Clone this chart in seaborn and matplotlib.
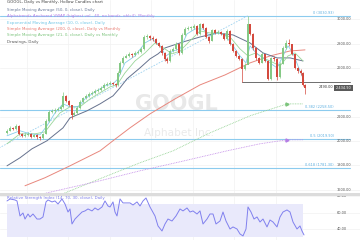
import numpy as np
import pandas as pd
import matplotlib
matplotlib.use("Agg")
import matplotlib.pyplot as plt
import seaborn as sns

# ---------------- data ----------------
candle_x = [7, 10, 13, 16, 19, 22, 25, 28, 31, 34, 37, 40, 43, 46, 49, 52, 55, 58, 61, 63,
            66, 69, 72, 74, 77, 80, 83, 86, 89, 92, 95, 98, 101, 104, 107, 110, 113, 116, 118, 120,
            123, 126, 129, 132, 135, 138, 141, 144, 147, 150, 153, 156, 159, 162, 165, 167, 170, 173, 176, 179,
            182, 185, 188, 191, 194, 197, 200, 203, 206, 209, 212, 215, 218, 221, 224, 227, 230, 233, 236, 239,
            242, 245, 248, 250, 253, 256, 259, 262, 265, 268, 271, 274, 277, 280, 283, 286, 289, 292, 295, 298,
            301, 303, 305]
candle_close = [2085, 2109, 2101, 2126, 2060, 2044, 2052, 2060, 2035, 2052, 2035, 2027, 2060, 2167, 2241, 2249, 2257, 2265, 2282, 2372,
                2331, 2298, 2216, 2232, 2274, 2323, 2356, 2372, 2389, 2397, 2413, 2421, 2438, 2462, 2471, 2479, 2471, 2462, 2561, 2643,
                2684, 2700, 2717, 2709, 2725, 2733, 2758, 2856, 2865, 2848, 2840, 2807, 2783, 2725, 2676, 2659, 2742, 2758, 2799, 2725,
                2873, 2922, 2930, 2930, 2947, 2881, 2963, 2930, 2856, 2824, 2914, 2889, 2897, 2881, 2840, 2906, 2799, 2742, 2700, 2676,
                2594, 2627, 2960, 2881, 2766, 2684, 2643, 2717, 2659, 2512, 2684, 2676, 2528, 2635, 2766, 2807, 2799, 2717, 2602, 2577,
                2561, 2462, 2434.9]
candle_high = [2100, 2125, 2118, 2140, 2130, 2070, 2066, 2075, 2068, 2062, 2058, 2045, 2070, 2180, 2255, 2262, 2270, 2280, 2295, 2400,
               2380, 2340, 2300, 2245, 2285, 2335, 2365, 2385, 2400, 2410, 2425, 2435, 2450, 2475, 2485, 2495, 2490, 2480, 2575, 2660,
               2700, 2715, 2730, 2728, 2740, 2748, 2770, 2870, 2880, 2875, 2860, 2845, 2815, 2790, 2735, 2690, 2755, 2770, 2812, 2805,
               2885, 2935, 2945, 2948, 2960, 2955, 2975, 2970, 2935, 2865, 2925, 2920, 2910, 2905, 2890, 2918, 2910, 2805, 2750, 2710,
               2680, 2640, 3030.93, 2965, 2885, 2770, 2690, 2730, 2720, 2665, 2695, 2700, 2680, 2650, 2778, 2835, 2840, 2800, 2720, 2610,
               2590, 2565, 2470]
candle_low = [2060, 2080, 2090, 2095, 2050, 2030, 2035, 2040, 2025, 2030, 2020, 2010, 2020, 2055, 2160, 2230, 2235, 2245, 2255, 2275,
              2320, 2285, 2180, 2205, 2225, 2265, 2315, 2345, 2360, 2380, 2390, 2405, 2415, 2430, 2455, 2465, 2460, 2445, 2455, 2555,
              2635, 2680, 2695, 2695, 2700, 2715, 2725, 2750, 2840, 2830, 2825, 2795, 2770, 2710, 2660, 2640, 2650, 2735, 2750, 2710,
              2720, 2865, 2910, 2915, 2925, 2870, 2875, 2920, 2845, 2810, 2820, 2880, 2880, 2870, 2830, 2835, 2790, 2730, 2690, 2665,
              2490, 2585, 2630, 2870, 2750, 2670, 2630, 2640, 2650, 2500, 2505, 2660, 2505, 2520, 2630, 2760, 2785, 2705, 2590, 2560,
              2540, 2450, 2390]
first_open = 2070

sma50_x = [7, 20, 32, 47, 63, 70, 87, 100, 113, 120, 127, 140, 150, 158, 165, 183, 200, 217, 233, 250, 263, 277, 290, 303]
sma50_v = [1797, 1863, 1937, 2003, 2109, 2191, 2249, 2306, 2372, 2438, 2512, 2602, 2676, 2717, 2766, 2815, 2856, 2889, 2873, 2807, 2725, 2684, 2684, 2659]

sma200_x = [25, 45, 70, 100, 113, 130, 150, 175, 200, 225, 250, 270, 290, 305]
sma200_v = [1633, 1699, 1797, 1920, 2003, 2109, 2224, 2347, 2462, 2544, 2643, 2700, 2741, 2750]

sma21m_x = [58, 100, 140, 173, 210, 250, 287, 303]
sma21m_v = [1551, 1691, 1822, 1920, 2068, 2208, 2306, 2306]

vwap_x = [43, 100, 140, 180, 227, 260, 287, 303]
vwap_v = [1567, 1674, 1756, 1830, 1920, 1978, 2011, 2011]

sma21_x = [7, 20, 35, 45, 52, 60, 70, 80, 90, 100, 110, 117, 125, 135, 145, 155, 165, 172, 180, 190,
           200, 210, 220, 230, 240, 248, 256, 263, 270, 280, 288, 295, 303]
sma21_v = [1978, 2060, 2060, 2076, 2150, 2232, 2282, 2282, 2347, 2397, 2446, 2462, 2561, 2659, 2725, 2807, 2758, 2717, 2741, 2824,
           2906, 2889, 2889, 2856, 2758, 2700, 2725, 2684, 2659, 2618, 2700, 2725, 2659]

ema10_x = [7, 20, 30, 40, 47, 55, 63, 70, 78, 85, 95, 105, 113, 118, 125, 135, 145, 152, 160, 166,
           173, 180, 187, 195, 203, 210, 217, 225, 233, 240, 246, 250, 256, 263, 270, 277, 283, 288, 293, 298, 304]
ema10_v = [2044, 2085, 2060, 2052, 2126, 2232, 2306, 2282, 2282, 2347, 2405, 2454, 2471, 2512, 2643, 2700, 2807, 2840, 2783, 2700,
           2741, 2758, 2881, 2922, 2922, 2865, 2889, 2873, 2783, 2700, 2643, 2783, 2725, 2684, 2643, 2602, 2700, 2783, 2725, 2618, 2495]

trend_x = [-215, 248]
trend_v = [1008.87, 3030.93]

fib_levels = ["0", "0.382", "0.5", "0.618"]
fib_prices = [3030.93, 2258.50, 2019.90, 1781.30]

support_price = 2490.00
last_price = 2434.90
price_ticks = [3000, 2800, 2600, 2200, 2000, 1800, 1600]

rsi_x = [7, 10, 15, 17, 20, 23, 25, 28, 30, 33, 37, 40, 43, 46, 48, 52, 55, 58, 62, 65,
         68, 70, 72, 75, 78, 82, 85, 88, 92, 95, 98, 102, 105, 108, 110, 113, 115, 117, 120, 123,
         127, 130, 133, 137, 140, 143, 146, 150, 155, 158, 162, 165, 168, 172, 176, 180, 183, 187, 190, 193,
         197, 200, 203, 207, 210, 213, 216, 220, 223, 226, 230, 233, 237, 240, 243, 246, 248, 251, 254, 257,
         260, 263, 267, 270, 273, 277, 280, 283, 287, 290, 293, 297, 300, 302, 304]
rsi_v = [74.0, 76.4, 75.2, 74.0, 55.8, 59.4, 52.1, 58.2, 54.6, 58.2, 52.1, 52.1, 54.6, 72.8, 75.2, 72.8, 74.0, 70.3, 76.4, 70.3,
         60.6, 64.3, 46.1, 52.1, 55.8, 60.6, 61.9, 64.3, 61.9, 65.5, 63.1, 66.7, 74.0, 67.9, 66.7, 72.8, 60.6, 55.8, 76.4, 71.6,
         71.6, 71.6, 69.1, 72.8, 67.9, 74.0, 77.6, 66.7, 55.8, 43.7, 37.6, 46.1, 52.1, 49.7, 55.8, 64.3, 61.9, 65.5, 60.6, 61.9,
         58.2, 61.9, 46.1, 52.1, 58.2, 58.2, 46.1, 49.7, 60.6, 49.7, 40.0, 42.5, 40.0, 34.0, 31.6, 40.0, 66.7, 60.6, 52.1, 54.6,
         48.5, 52.1, 42.5, 50.9, 48.5, 42.5, 54.6, 60.6, 63.1, 60.6, 48.5, 40.0, 43.7, 37.6, 32.8]
rsi_ticks = [80, 60, 40]

legend_rows = [
    ("GOOGL, Daily vs Monthly, Hollow Candles chart", "#444444"),
    ("Simple Moving Average (50, 0, close), Daily", "#6b7a99"),
    ("Alphatrends Anchored VWAP (highest vol., 40, no bands, ohlc4), Monthly", "#b57ee5"),
    ("Exponential Moving Average (10, 0, close), Daily", "#6ec6e6"),
    ("Simple Moving Average (200, 0, close), Daily vs Monthly", "#e87a70"),
    ("Simple Moving Average (21, 0, close), Daily vs Monthly", "#7cc47c"),
    ("Drawings, Daily", "#555555"),
]

# ---------------- figure ----------------
sns.set_style("white")
plt.rcParams["font.family"] = ["DejaVu Sans"]
W, H = 360, 240
fig = plt.figure(figsize=(3.6, 2.4), dpi=100)
fig.patch.set_facecolor("white")

def fy(py):
    return 1 - py / H

def ppx(py):
    return 3160 - 8.22 * py

ax = fig.add_axes([0, fy(193), 1, 193 / H])
ax.set_xlim(0, W)
ax.set_ylim(ppx(193), ppx(0))
ax.axis("off")

rax = fig.add_axes([0, 0, 1, 46 / H])
rax.set_xlim(0, W)
rax.set_ylim(80 - 44 * 1.212, 80 + 2 * 1.212)
rax.axis("off")

grid_c = "#f1f1f1"
for p in price_ticks:
    ax.axhline(p, color=grid_c, lw=0.5, zorder=0)
for gx in [27, 68, 110, 151, 193, 234, 276]:
    ax.axvline(gx, color=grid_c, lw=0.5, zorder=0)
    rax.axvline(gx, color=grid_c, lw=0.5, zorder=0)
for r in rsi_ticks:
    rax.axhline(r, color=grid_c, lw=0.5, zorder=0)

# watermark
ax.text(176, ppx(104), "GOOGL", fontsize=15, fontweight="bold", color="#e8e8e8",
        ha="center", va="center", zorder=0)
ax.text(179, ppx(133), "Alphabet Inc.", fontsize=7.6, color="#eaeaea",
        ha="center", va="center", zorder=0)

# fib retracement lines + trend line
for lvl, pr in zip(fib_levels, fib_prices):
    ax.plot([0, 350], [pr, pr], color="#8ccbee", lw=0.8, zorder=1)
    ax.text(334, pr + 8.22 * 0.8, f"{lvl} ({pr:.2f})", fontsize=2.5, color="#5aaee0",
            ha="right", va="bottom", zorder=6)
trend_df = pd.DataFrame({"x": trend_x, "v": trend_v})
sns.lineplot(data=trend_df, x="x", y="v", ax=ax, color="#9fd3f0", lw=0.6,
             linestyle=(0, (2, 1.5)), zorder=1)

# support line
ax.plot([242, 350], [support_price, support_price], color="#6e6e6e", lw=0.7, zorder=4)

# moving averages
def line(xs, vs, color, lw=0.6, ls="-", z=2, target=ax):
    df = pd.DataFrame({"x": xs, "v": vs})
    sns.lineplot(data=df, x="x", y="v", ax=target, color=color, lw=lw, linestyle=ls, zorder=z)

line(sma200_x, sma200_v, "#e8877d", lw=0.7)
line(sma21m_x, sma21m_v, "#8fd08f", lw=0.6, ls=(0, (1, 1)))
line(vwap_x, vwap_v, "#c28ae8", lw=0.6, ls=(0, (1, 1)))
line(sma50_x, sma50_v, "#66728e", lw=0.7)
line(sma21_x, sma21_v, "#9ad69a", lw=0.6, z=3)
line(ema10_x, ema10_v, "#86cdea", lw=0.6, z=3)
ax.plot([sma21m_x[-2]], [sma21m_v[-2]], marker=">", ms=2.2, color="#7cc47c", zorder=4)
ax.plot([vwap_x[-2]], [vwap_v[-2]], marker=">", ms=2.2, color="#b57ee5", zorder=4)

# candles
opens = [first_open] + candle_close[:-1]
up_c, dn_c = "#85c985", "#d44a3e"
for x, o, c, h, l in zip(candle_x, opens, candle_close, candle_high, candle_low):
    col = up_c if c >= o else dn_c
    ax.vlines(x, l, h, color=col, lw=0.5, zorder=5)
    ax.bar(x, max(abs(c - o), 4), bottom=min(o, c), width=1.7, color=col, lw=0, zorder=5)

# price axis labels
for p in price_ticks:
    ax.text(337, p, f"{p:.2f}", fontsize=2.5, color="#555555", ha="left", va="center", zorder=6)
ax.text(333, ppx(87), f"{support_price:.2f}", fontsize=2.5, color="#333333",
        ha="right", va="center", zorder=6)
ax.text(343.5, last_price, f"{last_price:,.2f}", fontsize=2.5, color="white", ha="center", va="center",
        zorder=7, bbox=dict(boxstyle="square,pad=0.35", fc="#5a5a5a", ec="none"))

# legend rows
row_y = [2.2, 10, 15.7, 22.7, 29, 35, 41.7]
for (txt, col), py in zip(legend_rows, row_y):
    fig.text(7 / W, fy(py), txt, fontsize=2.9, color=col, ha="left", va="center")

# separator between panes
fig.patches.append(plt.Rectangle((0, fy(195.5)), 1, 2.5 / H, transform=fig.transFigure,
                                 color="#dcdcdc", lw=0))

# RSI
rax.fill_between([7, 303], 30, 70, color="#e9e9fb", lw=0, zorder=0)
line(rsi_x, rsi_v, "#8080ee", lw=0.7, target=rax)
fig.text(7 / W, fy(197.5), "Relative Strength Index (14, 70, 30, close), Daily", fontsize=2.9,
         color="#7b7bea", ha="left", va="center")
for r in rsi_ticks:
    rax.text(337, r, f"{r:.2f}", fontsize=2.5, color="#555555", ha="left", va="center")
ax.set_xlabel(""); ax.set_ylabel(""); rax.set_xlabel(""); rax.set_ylabel("")

fig.savefig("out.png", dpi=100)
